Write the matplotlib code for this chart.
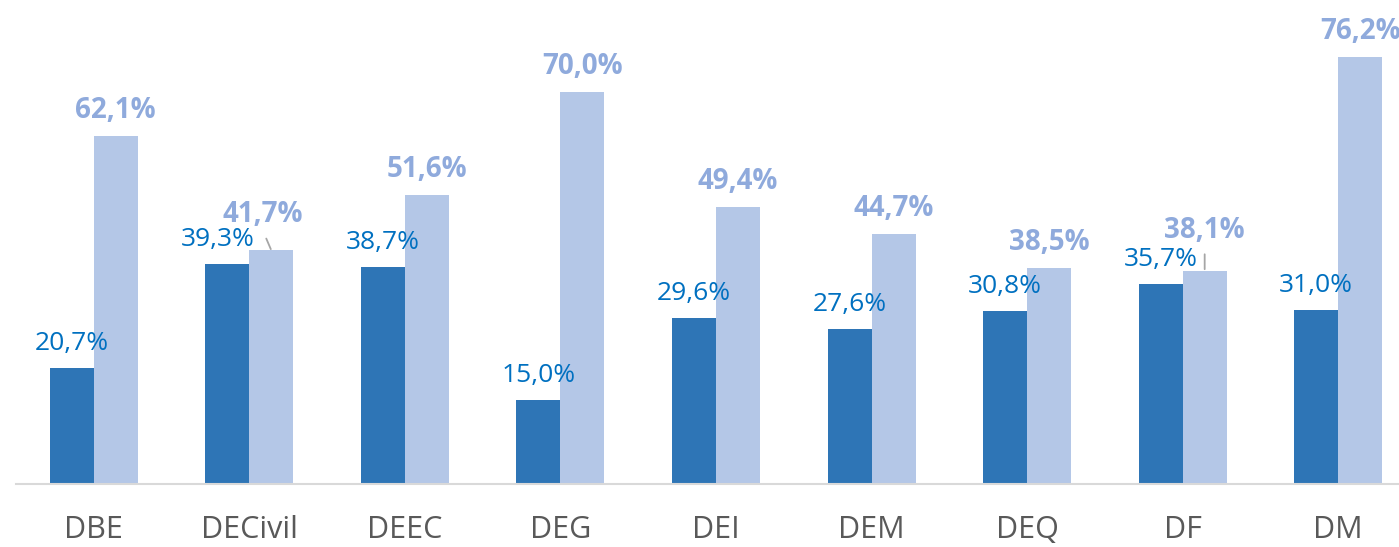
import numpy as np
import matplotlib
matplotlib.use('Agg')
import matplotlib.pyplot as plt

categories = ['DBE', 'DECivil', 'DEEC', 'DEG', 'DEI', 'DEM', 'DEQ', 'DF', 'DM']
serie_a = [20.7, 39.3, 38.7, 15.0, 29.6, 27.6, 30.8, 35.7, 31.0]
serie_b = [62.1, 41.7, 51.6, 70.0, 49.4, 44.7, 38.5, 38.1, 76.2]

plt.rcParams['font.family'] = ['Open Sans', 'DejaVu Sans']

fig = plt.figure(figsize=(13.99, 5.47), dpi=100)
ax = fig.add_axes([16 / 1399, 63 / 547, 1400 / 1399, 484 / 547])

x = np.arange(len(categories))
w = 0.283
ax.bar(x - w / 2, serie_a, w, color='#2E75B6')
ax.bar(x + w / 2, serie_b, w, color='#B4C7E7')

ax.set_xlim(-0.5, len(categories) - 0.5)
ax.set_ylim(0, 86.4)

# rótulos (alguns deslocados como no original)
shift_a = {1: (-10, 0)}
shift_b = {1: (-9, 10), 7: (0, 15)}

def fmt(v):
    return f'{v:.1f}%'.replace('.', ',')

for i, v in enumerate(serie_a):
    dx, dy = shift_a.get(i, (0, 0))
    ax.annotate(fmt(v), (x[i] - w / 2, v), xytext=(dx, 18 + dy),
                textcoords='offset pixels', ha='center', va='baseline',
                fontsize=19, color='#0070C0')

for i, v in enumerate(serie_b):
    dx, dy = shift_b.get(i, (0, 0))
    arrow = None
    if i in shift_b:
        arrow = dict(arrowstyle='-', color='#A6A6A6', lw=1.3,
                     shrinkA=5, shrinkB=1, relpos=(0.5, 0))
    ax.annotate(fmt(v), (x[i] + w / 2, v), xytext=(dx, 18 + dy),
                textcoords='offset pixels', ha='center', va='baseline',
                fontsize=20, fontweight='bold', color='#8FAADC',
                arrowprops=arrow, annotation_clip=False)

ax.set_xticks(x)
ax.set_xticklabels(categories, fontsize=22, color='#595959')
ax.tick_params(axis='x', length=0, pad=22)
ax.set_yticks([])
for s in ['top', 'left', 'right']:
    ax.spines[s].set_visible(False)
ax.spines['bottom'].set_color('#D9D9D9')
ax.spines['bottom'].set_linewidth(1.5)

fig.savefig('out.png', dpi=100)
